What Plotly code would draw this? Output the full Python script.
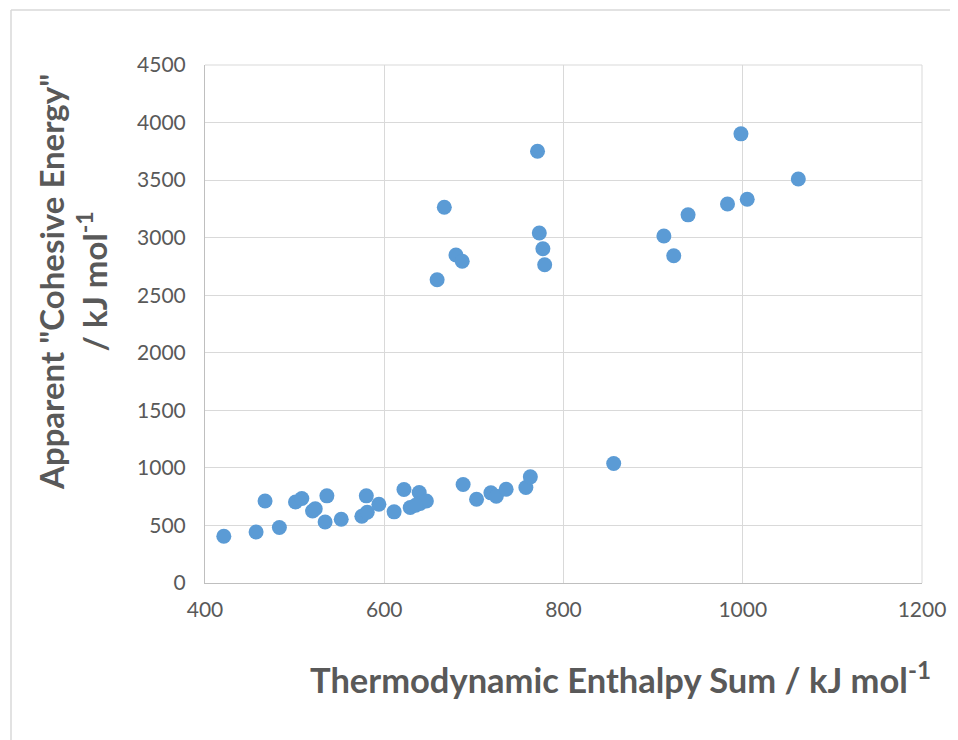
import plotly.graph_objects as go

# Thermodynamic enthalpy sum (kJ/mol)
enthalpy_sum = [421, 457, 467, 483, 501, 508, 520, 523, 536, 534, 552, 575, 581, 580,
                594, 611, 622, 629, 639, 640, 647, 635, 688, 703, 719, 725, 736, 758,
                763, 856, 998, 1062, 1005, 983, 939, 912, 923, 771, 667, 773, 777, 779,
                680, 687, 659]
# Apparent cohesive energy (kJ/mol)
cohesive_energy = [406, 443, 713, 482, 704, 734, 625, 645, 757, 530, 554, 580, 615, 757,
                   684, 618, 812, 656, 786, 690, 713, 676, 856, 728, 783, 754, 815, 830,
                   922, 1038, 3902, 3510, 3334, 3293, 3198, 3015, 2843, 3751, 3264, 3041, 2904, 2765,
                   2850, 2795, 2635]

x_ticks = [400, 600, 800, 1000, 1200]
y_ticks = [0, 500, 1000, 1500, 2000, 2500, 3000, 3500, 4000, 4500]

# page offset of the plotly div (browser body margin)
OFF = 8
W, H = 958 - OFF, 740 - OFF
# plot area in page pixels: x 205..922, y 65..583
PL, PR, PT, PB = 205, 922, 65, 583
L, R, T, B = PL - OFF, W - (PR - OFF), PT - OFF, H - (PB - OFF)
pw, ph = PR - PL, PB - PT

def px(x):
    return (x - PL) / pw

def py(y):
    return (PB - y) / ph

fig = go.Figure(go.Scatter(
    x=enthalpy_sum, y=cohesive_energy, mode="markers",
    marker=dict(size=15, color="#5B9BD5", line=dict(width=0)),
    hoverinfo="x+y"))

font_family = "Lato"
grey = "#595959"
border = dict(color="#D9D9D9", width=1.5)

fig.update_layout(
    width=W, height=H,
    margin=dict(l=L, r=R, t=T, b=B, pad=0),
    paper_bgcolor="white", plot_bgcolor="white",
    showlegend=False,
    font=dict(family=font_family, color=grey, size=21),
    xaxis=dict(range=[400, 1200], tickvals=x_ticks, showgrid=True, gridcolor="#D9D9D9",
               gridwidth=1, zeroline=False, showline=True, linecolor="#BFBFBF", linewidth=1,
               ticks="", ticklabelstandoff=8, tickfont=dict(size=21, color=grey),
               automargin=False),
    yaxis=dict(range=[0, 4500], tickvals=y_ticks, showgrid=True, gridcolor="#D9D9D9",
               gridwidth=1, zeroline=False, showline=True, linecolor="#BFBFBF", linewidth=1,
               ticks="", ticklabelstandoff=14, tickfont=dict(size=21, color=grey),
               automargin=False),
    shapes=[
        # chart-area border (left and top edges visible in the reference)
        dict(type="line", xref="paper", yref="paper",
             x0=px(11), x1=px(11), y0=py(745), y1=py(10), line=border, layer="below"),
        dict(type="line", xref="paper", yref="paper",
             x0=px(11), x1=px(958), y0=py(10), y1=py(10), line=border, layer="below"),
        dict(type="line", xref="paper", yref="paper", x0=1, x1=1, y0=0, y1=1,
             line=dict(color="#D9D9D9", width=1)),
        dict(type="line", xref="paper", yref="paper", x0=0, x1=1, y0=1, y1=1,
             line=dict(color="#D9D9D9", width=1)),
    ],
    annotations=[
        dict(text="<b>Thermodynamic Enthalpy Sum / kJ mol<sup>-1</sup></b>",
             xref="paper", yref="paper", x=px(933), y=py(677),
             xanchor="right", yanchor="middle", showarrow=False,
             font=dict(family=font_family, size=34.5, color=grey)),
        dict(text="<b>Apparent \"Cohesive Energy\"<br>/ kJ mol<sup>-1</sup></b>",
             xref="paper", yref="paper", x=px(72), y=py(282),
             xanchor="center", yanchor="middle", showarrow=False, textangle=-90,
             font=dict(family=font_family, size=33, color=grey)),
    ],
)

fig.write_html("out.html")
